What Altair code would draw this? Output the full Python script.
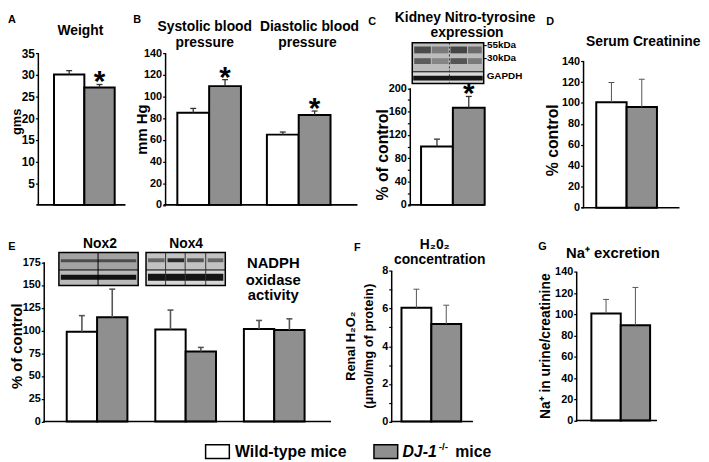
import altair as alt
import pandas as pd

FONT = "Liberation Sans"
GENOS = ["Wild-type mice", "DJ-1-/- mice"]
FILLS = ["#ffffff", "#8f8f8f"]

# ---- data ----
# A: body weight (gms)
weight_groups = ["Weight"]
weight_wt, weight_wt_sem, weight_wt_sig = [30.1], [0.9], [False]
weight_ko, weight_ko_sem, weight_ko_sig = [27.1], [0.7], [True]
# B: blood pressure (mm Hg)
bp_groups = ["Systolic", "Diastolic"]
bp_wt, bp_wt_sem, bp_wt_sig = [85.2, 64.9], [3.9, 2.4], [False, False]
bp_ko, bp_ko_sem, bp_ko_sig = [109.7, 83.1], [6.0, 3.6], [True, True]
# C: kidney nitro-tyrosine (% of control)
nt_groups = ["Nitro-tyrosine"]
nt_wt, nt_wt_sem, nt_wt_sig = [100.0], [12.8], [False]
nt_ko, nt_ko_sem, nt_ko_sig = [166.7], [19.3], [True]
# D: serum creatinine (% control)
cr_groups = ["Creatinine"]
cr_wt, cr_wt_sem, cr_wt_sig = [100.8], [18.8], [False]
cr_ko, cr_ko_sem, cr_ko_sig = [96.1], [26.6], [False]
# E: Nox2, Nox4, NADPH oxidase activity (% of control)
nox_groups = ["Nox2", "Nox4", "NADPH"]
nox_wt, nox_wt_sem, nox_wt_sig = [98.5, 101.0, 101.7], [17.8, 21.4, 9.3], [False, False, False]
nox_ko, nox_ko_sem, nox_ko_sig = [114.5, 76.8, 100.6], [30.9, 4.6, 12.2], [False, False, False]
# F: renal H2O2 (umol/mg of protein)
h2_groups = ["H2O2"]
h2_wt, h2_wt_sem, h2_wt_sig = [6.04], [0.99], [False]
h2_ko, h2_ko_sem, h2_ko_sig = [5.18], [1.00], [False]
# G: Na+ excretion (urine/creatinine)
na_groups = ["Na"]
na_wt, na_wt_sem, na_wt_sig = [100.9], [13.2], [False]
na_ko, na_ko_sem, na_ko_sig = [89.7], [35.7], [False]

ONE = pd.DataFrame({"k": [0]})
PW, PH = 701, 454            # drawing area = page area right of / below the 8px margin
SX, SY = PW / 708, PH / 462  # reference layout squeezed into the drawing area


def fx(x):
    """reference page column -> drawing x"""
    return (x - 1) * SX


def fy(y):
    """reference page row -> drawing y"""
    return y * SY


def table(groups, wt, wt_sem, wt_sig, ko, ko_sem, ko_sig):
    recs = []
    for i, g in enumerate(groups):
        for geno, m, s, sg in ((GENOS[0], wt[i], wt_sem[i], wt_sig[i]),
                               (GENOS[1], ko[i], ko_sem[i], ko_sig[i])):
            recs.append({"grp": g, "geno": geno, "mean": m, "hi": m + s, "sig": sg})
    return pd.DataFrame(recs)


def band(groups, x1, x2, first, bw, step=None):
    """Band scale over reference columns x1..x2, first band starting at column `first`."""
    n = len(groups)
    if n == 1 or step is None:
        step = bw
    W = x2 - x1
    pi = 1 - bw / step
    outer = max(W - (n - 1) * step - bw, 0.001)
    return alt.Scale(domain=groups, range=[fx(x1), fx(x2)], paddingInner=pi,
                     paddingOuter=outer / (2 * step), align=min(1, (first - x1) / outer))


def yscale(y0, px_per_unit, vtop):
    """Linear scale: value 0 at reference row y0."""
    return alt.Scale(domain=[0, vtop], range=[fy(y0), fy(y0 - vtop * px_per_unit)],
                     nice=False, zero=False)


def txt(s, x, y, size=14, align="center", style="normal", baseline="middle"):
    return alt.Chart(ONE).mark_text(text=s, font=FONT, fontSize=size, fontWeight="bold",
                                    fontStyle=style, align=align, baseline=baseline,
                                    color="black").encode(x=alt.value(fx(x)), y=alt.value(fy(y)))


def rect(x1, x2, y1, y2, fill=None, stroke=None, sw=1.0):
    kw = {}
    if fill:
        kw["fill"] = fill
    else:
        kw["fillOpacity"] = 0
    if stroke:
        kw["stroke"] = stroke
        kw["strokeWidth"] = sw
    return alt.Chart(ONE).mark_rect(**kw).encode(
        x=alt.value(fx(x1)), x2=alt.value(fx(x2)), y=alt.value(fy(y1)), y2=alt.value(fy(y2)))


def vline(x, y1, y2, color="black", sw=1.0, dash=None):
    kw = {"color": color, "strokeWidth": sw}
    if dash:
        kw["strokeDash"] = dash
    return alt.Chart(ONE).mark_rule(**kw).encode(
        x=alt.value(fx(x)), y=alt.value(fy(y1)), y2=alt.value(fy(y2)))


def hline(x1, x2, y, color="black", sw=1.0):
    return alt.Chart(ONE).mark_rule(color=color, strokeWidth=sw).encode(
        x=alt.value(fx(x1)), x2=alt.value(fx(x2)), y=alt.value(fy(y)))


def panel(df, xs, ys, axis_x, base_x1, base_x2, yvals, ytop, ytitle, tcx, tcy, tfs, lfs,
          label_expr=None, err_color="#333333", err_w=1.3, title_lh=None):
    xoff = alt.XOffset("geno:N", scale=alt.Scale(domain=GENOS, paddingInner=0, paddingOuter=0))
    ak = dict(orient="left", offset=-fx(axis_x), values=yvals, format="d", domain=False,
              grid=False, tickSize=3, tickColor="black", tickWidth=1.2, labelFont=FONT,
              labelFontSize=lfs, labelFontWeight="bold", labelColor="black", labelPadding=1,
              title=ytitle, titleFont=FONT, titleFontSize=tfs, titleFontWeight="bold",
              titleColor="black", titleAngle=270, titleAlign="center", titleBaseline="middle",
              titleX=fx(tcx) - fx(axis_x), titleY=fy(tcy))
    if label_expr:
        ak["labelExpr"] = label_expr
    if title_lh:
        ak["titleLineHeight"] = title_lh
    X = alt.X("grp:N", scale=xs, axis=None)
    bars = alt.Chart(df).mark_bar(stroke="black", strokeWidth=2).encode(
        x=X, xOffset=xoff,
        y=alt.Y("mean:Q", scale=ys, axis=alt.Axis(**ak)), y2=alt.datum(0),
        fill=alt.Fill("geno:N", scale=alt.Scale(domain=GENOS, range=FILLS), legend=None),
    )
    base = alt.Chart(df).encode(x=X, xOffset=xoff)
    err = base.mark_rule(color=err_color, strokeWidth=err_w).encode(
        y=alt.Y("mean:Q", scale=ys), y2="hi:Q")
    cap = base.mark_tick(color=err_color, thickness=err_w, size=6, opacity=1).encode(
        y=alt.Y("hi:Q", scale=ys))
    star = base.transform_filter("datum.sig").mark_text(
        text="*", font=FONT, fontSize=30, fontWeight="bold", baseline="alphabetic",
        dy=7, color="black").encode(y=alt.Y("hi:Q", scale=ys))
    yline = alt.Chart(ONE).mark_rule(color="black", strokeWidth=1.5).encode(
        x=alt.value(fx(axis_x)), y=alt.datum(0), y2=alt.datum(ytop))
    xline = alt.Chart(ONE).mark_rule(color="black", strokeWidth=1.6).encode(
        x=alt.value(fx(base_x1)), x2=alt.value(fx(base_x2)), y=alt.datum(0))
    return alt.layer(bars, err, cap, star, yline, xline)


# ---- panels ----
pA = panel(table(weight_groups, weight_wt, weight_wt_sem, weight_wt_sig,
                 weight_ko, weight_ko_sem, weight_ko_sig),
           band(weight_groups, 30, 121, 48, 62), yscale(200, 156 / 35, 35), 32, 30, 121,
           list(range(5, 40, 5)), 35, "gms", 10, 114, 13, 12)

pB = panel(table(bp_groups, bp_wt, bp_wt_sem, bp_wt_sig, bp_ko, bp_ko_sem, bp_ko_sig),
           band(bp_groups, 160, 358, 174, 65, 91.5), yscale(200, 156 / 140, 140), 162, 160, 358,
           list(range(0, 160, 20)), 140, "mm Hg", 137, 122, 15, 11)

pC = panel(table(nt_groups, nt_wt, nt_wt_sem, nt_wt_sig, nt_ko, nt_ko_sem, nt_ko_sig),
           band(nt_groups, 410, 490, 423, 65), yscale(200, 0.6, 200), 412, 410, 488,
           list(range(0, 220, 20)), 200, "% of control", 384, 148, 16, 11,
           label_expr="datum.value % 40 == 0 ? datum.label : ''")

pD = panel(table(cr_groups, cr_wt, cr_wt_sem, cr_wt_sig, cr_ko, cr_ko_sem, cr_ko_sig),
           band(cr_groups, 587, 687, 602, 62), yscale(203, 151 / 140, 140), 589, 587, 687,
           list(range(0, 160, 20)), 140, "% control", 557, 133, 16, 11,
           err_color="#555555", err_w=1.0)

pE = panel(table(nox_groups, nox_wt, nox_wt_sem, nox_wt_sig, nox_ko, nox_ko_sem, nox_ko_sig),
           band(nox_groups, 37, 331, 61, 62, 90.5), yscale(423, 164 / 175, 175), 38, 37, 331,
           list(range(0, 200, 25)), 175, "% of control", 10, 345, 15, 11,
           err_color="#555555", err_w=1.6)

pF = panel(table(h2_groups, h2_wt, h2_wt_sem, h2_wt_sig, h2_ko, h2_ko_sem, h2_ko_sig),
           band(h2_groups, 392, 476, 403, 61), yscale(423, 155 / 8, 8), 393, 392, 476,
           list(range(0, 9)), 8, ["Renal H\u2082O\u2082", "(\u03bcmol/mg of protein)"],
           351, 345, 13, 11, label_expr="datum.value % 2 == 0 ? datum.label : ''",
           err_color="#555555", err_w=1.0, title_lh=18)

pG = panel(table(na_groups, na_wt, na_wt_sem, na_wt_sig, na_ko, na_ko_sem, na_ko_sig),
           band(na_groups, 581, 664, 597, 60), yscale(422, 153 / 140, 140), 582, 581, 664,
           list(range(0, 160, 20)), 140, "Na\u207a in urine/creatinine", 550, 345, 14, 11,
           err_color="#555555", err_w=1.0)

# ---- blots ----
blots = [
    # panel C
    rect(414, 487, 33, 63, "#bcbcbc"), rect(414, 487, 63, 75, "#d9d9d9"),
    rect(416, 433, 37, 44, "#4a4a4a"), rect(434, 451, 37, 44, "#7a7a7a"),
    rect(453, 470, 37, 44, "#454545"), rect(471, 485, 37, 44, "#6c6c6c"),
    rect(416, 433, 49, 55, "#5c5c5c"), rect(434, 451, 49, 55, "#858585"),
    rect(453, 470, 49, 55, "#555555"), rect(471, 485, 49, 55, "#7a7a7a"),
    rect(415, 486, 67, 72, "#141414"),
    hline(414, 487, 63), vline(452, 33, 75, "#333333", 1, [2, 2]),
    rect(414, 487, 33, 75, None, "black", 1.5),
    # panel E, Nox2
    rect(53, 134, 249, 267, "#a3a3a3"), rect(53, 134, 267, 283, "#b9b9b9"),
    rect(55, 132, 256, 259, "#4d4d4d"), rect(55, 132, 272, 277, "#111111"),
    hline(53, 134, 267), vline(93, 249, 283),
    rect(53, 134, 249, 283, None, "black", 1.5),
    # panel E, Nox4
    rect(142, 223, 249, 267, "#c2c2c2"), rect(142, 223, 267, 283, "#d6d6d6"),
    rect(144, 161, 255, 259, "#666666"), rect(164, 181, 255, 259, "#2a2a2a"),
    rect(184, 201, 255, 259, "#555555"), rect(205, 221, 255, 259, "#666666"),
    rect(144, 221, 271, 278, "#151515"),
    hline(142, 223, 267),
    vline(162, 249, 283, "#333333"), vline(182, 249, 283, "#333333"),
    vline(203, 249, 283, "#333333"),
    rect(142, 223, 249, 283, None, "black", 1.5),
]

# ---- texts ----
texts = [
    txt("A", 5, 10, 11), txt("Weight", 75, 21),
    txt("B", 133, 10, 11), txt("Systolic blood", 202, 17), txt("pressure", 202, 33),
    txt("Diastolic blood", 309, 17), txt("pressure", 307, 33),
    txt("C", 373, 12, 11), txt("Kidney Nitro-tyrosine", 468, 7.5),
    txt("expression", 470, 23),
    txt("-55kDa", 487, 35.5, 10, "left"), txt("-30kDa", 487, 49, 10, "left"),
    txt("GAPDH", 490, 67, 10, "left"),
    txt("D", 555, 12, 11), txt("Serum Creatinine", 650, 32),
    txt("E", 5, 243, 11), txt("Nox2", 95, 240), txt("Nox4", 183, 240),
    txt("NADPH", 272, 260, 15), txt("oxidase", 272, 277, 15), txt("activity", 272, 293, 15),
    txt("F", 358, 244, 11), txt("H\u20820\u2082", 437, 241), txt("concentration", 442, 257),
    txt("G", 547, 243, 11), txt("Na\u207a excretion", 619, 250, 15),
]

# ---- legend (marks sit at band centres; offsets measured from there) ----
HALF = 86 * SX
lx = alt.X("key:N", scale=alt.Scale(domain=GENOS, range=[fx(203), fx(375 + 172)],
                                    paddingInner=0, paddingOuter=0), axis=None)
swatch = alt.Chart(pd.DataFrame({"key": GENOS})).mark_point(
    shape="M-1,-0.5833H1V0.5833H-1Z", size=576, filled=True, stroke="black",
    strokeWidth=1.5, opacity=1, xOffset=12 * SX - HALF).encode(
    x=lx, y=alt.value(fy(454)),
    fill=alt.Fill("key:N", scale=alt.Scale(domain=GENOS, range=FILLS), legend=None))


def ltxt(key, s, dx, size=16, style="normal", dy=0):
    return alt.Chart(pd.DataFrame({"key": [key]})).mark_text(
        text=s, font=FONT, fontSize=size, fontWeight="bold", fontStyle=style, align="left",
        baseline="middle", dx=dx * SX - HALF, dy=dy, color="black").encode(
        x=lx, y=alt.value(fy(454)))


legend = alt.layer(
    swatch,
    ltxt(GENOS[0], "Wild-type mice", 30),
    ltxt(GENOS[1], "DJ-1", 29, style="italic"),
    ltxt(GENOS[1], "-/-", 66, size=10, dy=-5),
    ltxt(GENOS[1], "mice", 83),
)

chart = alt.layer(
    pA, pB, pC, pD, pE, pF, pG, legend, *blots, *texts
).resolve_scale(
    x="independent", y="independent", xOffset="independent"
).resolve_axis(
    x="independent", y="independent"
).properties(
    width=PW, height=PH, padding=0, autosize=alt.AutoSizeParams(type="none")
).configure_view(stroke=None)

chart.save("out.html", embed_options={"renderer": "svg", "actions": False})
